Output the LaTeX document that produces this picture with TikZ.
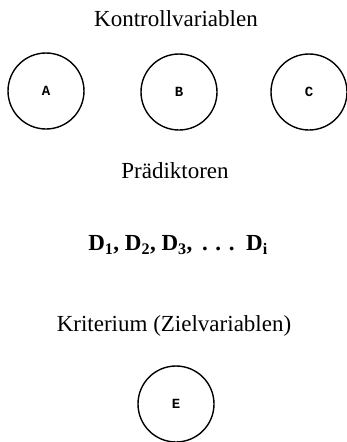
\documentclass[tikz,border=0pt]{standalone}
\usepackage{fontspec}
\setmainfont{Liberation Serif}
\newfontfamily\lettermono{Liberation Mono}
\begin{document}
\begin{tikzpicture}[x=1pt,y=-1pt,
  heading/.style={font=\fontsize{23}{27}\selectfont, inner sep=0pt},
  var/.style={circle, draw, line width=1.4pt, minimum size=76pt, inner sep=0pt,
    font=\lettermono\bfseries\fontsize{14}{16}\selectfont}]
\useasboundingbox (0,0) rectangle (346,442);
% group headings
\node[heading] (kv) at (176,19) {Kontrollvariablen};
\node[heading] (pr) at (175,171) {Prädiktoren};
\node[heading] (dl) at (178,245) {\textbf{D\textsubscript{1}, D\textsubscript{2}, D\textsubscript{3}, \,.\,\,.\,\,.\, D\textsubscript{i}}};
\node[heading] (kr) at (174,326) {Kriterium (Zielvariablen)};
% variables
\node[var] (A) at (46,91) {A};
\node[var] (B) at (179,92) {B};
\node[var] (C) at (309,92) {C};
\node[var] (E) at (176,404) {E};
\end{tikzpicture}
\end{document}
